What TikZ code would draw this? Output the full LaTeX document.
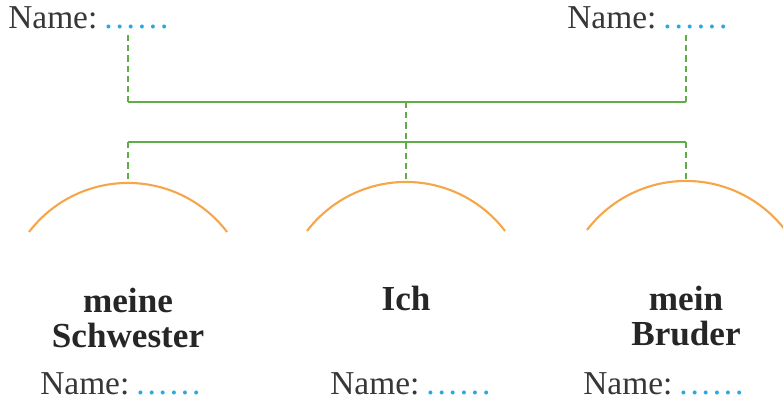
\documentclass[tikz,border=0pt]{standalone}
\usepackage{fontspec}
\setmainfont{Liberation Serif}
\usetikzlibrary{positioning}

\definecolor{linegreen}{RGB}{95,172,72}
\definecolor{arcorange}{RGB}{246,166,72}
\definecolor{dotblue}{RGB}{40,168,225}
\definecolor{inkgray}{RGB}{55,55,55}

\newcommand{\blankdots}{\textcolor{dotblue}{.\kern1.6pt.\kern1.6pt.\kern1.6pt.\kern1.6pt.\kern1.6pt.}}
\newcommand{\namefield}{Name:\kern4pt\blankdots}

\begin{document}
\begin{tikzpicture}
	[x=0.02cm,y=-0.02cm,every node/.style={inner sep=0pt},
	namebox/.style={anchor=west,text=inkgray,font=\fontsize{19}{22}\selectfont},
	person/.style={align=center,text=black!85,font=\fontsize{20}{20}\selectfont\bfseries},
	link/.style={linegreen,line width=1.1pt},
	tie/.style={link,dash pattern=on 3.5pt off 2.3pt},
	arcline/.style={arcorange,line width=1.2pt}]
	\useasboundingbox (0,0) rectangle (783,411);
	
	% parents
	\node[namebox] (mum) at (8,18) {\namefield};
	\node[namebox] (dad) at (567,18) {\namefield};
	\coordinate (t1) at (128,35);
	\coordinate (t2) at (686,35);
	\coordinate (h1) at (128,102);
	\coordinate (h2) at (686,102);
	\coordinate (m) at (406,102);
	\coordinate (g1) at (128,142);
	\coordinate (g2) at (686,142);
	\coordinate (g3) at (406,142);
	
	% children (top of the arcs)
	\coordinate (s) at (128,183);
	\coordinate (i) at (406,182);
	\coordinate (b) at (686,181);
	
	\draw[tie] (t1) -- (h1);
	\draw[tie] (t2) -- (h2);
	\draw[link] (h1) -- (h2);
	\draw[link] (g1) -- (g2);
	\draw[tie] (m) -- (g3) -- (i);
	\draw[tie] (g1) -- (s);
	\draw[tie] (g2) -- (b);
	
	\foreach \top in {s,i,b}
	{
		\draw[arcline] (\top) ++(-99,49) arc[start angle=217.3,end angle=322.7,radius=124.5];
	}
	
	\node[person] (sis) at (128,318) {meine\\Schwester};
	\node[person] (me) at (406,298) {Ich};
	\node[person] (bro) at (686,316) {mein\\Bruder};
	
	\node[namebox] (sisname) at (40,384) {\namefield};
	\node[namebox] (myname) at (330,384) {\namefield};
	\node[namebox] (broname) at (583,384) {\namefield};
\end{tikzpicture}
\end{document}
